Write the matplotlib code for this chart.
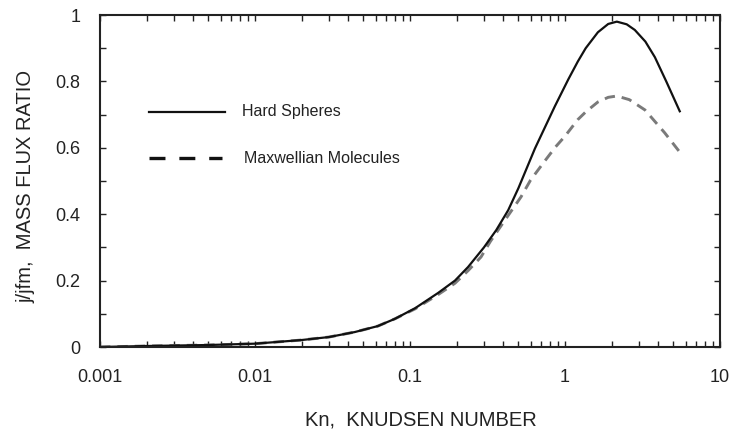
import matplotlib
matplotlib.use("Agg")
import matplotlib.pyplot as plt
from matplotlib.ticker import LogLocator, FixedLocator, MultipleLocator, NullFormatter

plt.rcParams['font.family'] = ['Liberation Sans', 'DejaVu Sans']
plt.rcParams['lines.scale_dashes'] = False

# Data
kn_hs = [0.001, 0.002, 0.005, 0.01, 0.02, 0.03, 0.044, 0.062, 0.08, 0.108, 0.152, 0.195,
         0.237, 0.3, 0.36, 0.43, 0.5, 0.64, 0.86, 1.05, 1.21, 1.36, 1.63, 1.9, 2.16, 2.5,
         2.82, 3.3, 3.8, 4.5, 5.5]
hard_spheres = [0.0, 0.003, 0.006, 0.010, 0.021, 0.030, 0.045, 0.063, 0.085, 0.117, 0.163, 0.200,
                0.241, 0.300, 0.352, 0.412, 0.478, 0.598, 0.725, 0.806, 0.860, 0.900, 0.948, 0.973,
                0.980, 0.972, 0.955, 0.920, 0.873, 0.800, 0.710]

kn_mm = [0.001, 0.002, 0.005, 0.01, 0.02, 0.03, 0.044, 0.062, 0.08, 0.108, 0.152, 0.195,
         0.237, 0.287, 0.33, 0.4, 0.52, 0.6, 0.74, 0.87, 1.0, 1.21, 1.36, 1.63, 1.9, 2.16,
         2.6, 3.28, 4.4, 5.5]
maxwellian = [0.0, 0.003, 0.006, 0.010, 0.021, 0.030, 0.045, 0.063, 0.085, 0.115, 0.158, 0.192,
              0.230, 0.271, 0.318, 0.375, 0.452, 0.503, 0.560, 0.603, 0.635, 0.685, 0.708, 0.738,
              0.752, 0.756, 0.745, 0.714, 0.645, 0.587]

xtick_vals = [0.001, 0.01, 0.1, 1, 10]
xtick_labels = ['0.001', '0.01', '0.1', '1', '10']
ytick_vals = [0, 0.2, 0.4, 0.6, 0.8, 1.0]
ytick_labels = ['0', '0.2', '0.4', '0.6', '0.8', '1']

W, H = 731, 432
fig = plt.figure(figsize=(W / 100, H / 100), dpi=100)
ax = fig.add_axes([100 / W, (H - 347) / H, (720 - 100) / W, (347 - 15) / H])

ax.plot(kn_mm, maxwellian, color='#7a7a7a', lw=2.1, dashes=(7.5, 5.0), solid_capstyle='butt')
ax.plot(kn_hs, hard_spheres, color='#111111', lw=1.6)

ax.set_xscale('log')
ax.set_xlim(0.001, 10)
ax.set_ylim(0, 1)

ax.xaxis.set_major_locator(FixedLocator(xtick_vals))
ax.set_xticklabels(xtick_labels)
ax.xaxis.set_minor_locator(LogLocator(base=10, subs=range(2, 10)))
ax.xaxis.set_minor_formatter(NullFormatter())
ax.yaxis.set_major_locator(FixedLocator(ytick_vals))
ax.set_yticklabels(ytick_labels)
ax.yaxis.set_minor_locator(MultipleLocator(0.1))

ax.tick_params(which='both', direction='in', top=True, right=True, length=4.5, width=1,
               color='#222222', labelsize=13, labelcolor='#222222')
ax.tick_params(axis='y', which='both', pad=14)
ax.tick_params(axis='x', which='both', pad=16)
for s in ax.spines.values():
    s.set_linewidth(1.5)
    s.set_color('#222222')

# Legend drawn manually
ax.plot([0.0790, 0.2015], [0.709, 0.709], transform=ax.transAxes, color='#111111', lw=1.6)
ax.plot([0.0790, 0.196], [0.568, 0.568], transform=ax.transAxes, color='#111111', lw=2.4,
        dashes=(11.5, 10.0), solid_capstyle='butt')
ax.text(0.229, 0.709, 'Hard Spheres', transform=ax.transAxes, fontsize=11.5,
        color='#222222', va='center', ha='left')
ax.text(0.233, 0.568, 'Maxwellian Molecules', transform=ax.transAxes, fontsize=11.5,
        color='#222222', va='center', ha='left')

fig.text(421 / W, 1 - 420 / H, 'Kn,  KNUDSEN NUMBER', fontsize=14.5, color='#222222',
         ha='center', va='center')
fig.text(26 / W, 1 - 186 / H, 'j/jfm,  MASS FLUX RATIO', fontsize=14.5, color='#222222',
         ha='center', va='center', rotation=90)

fig.savefig('out.png', dpi=100)
